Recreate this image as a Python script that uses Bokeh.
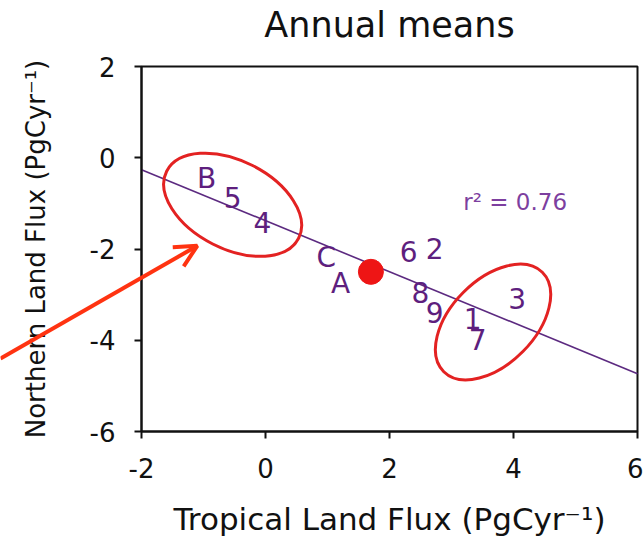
from bokeh.plotting import figure
from bokeh.models import (Arrow, OpenHead, FixedTicker, Label, BoxAnnotation,
                          CustomJSTickFormatter)
from bokeh.core.properties import value
from bokeh.embed import file_html
from bokeh.resources import INLINE

# Model labels and their annual mean fluxes (PgC/yr)
labels = ["B", "5", "4", "C", "A", "6", "2", "8", "9", "1", "7", "3"]
tropical = [-0.95, -0.53, -0.05, 0.98, 1.21, 2.31, 2.73, 2.50, 2.73, 3.34, 3.42, 4.06]
northern = [-0.46, -0.87, -1.42, -2.19, -2.76, -2.06, -1.99, -2.96, -3.39, -3.53, -3.99, -3.09]

# Ensemble mean
mean_tropical = [1.70]
mean_northern = [-2.50]

# Linear fit
fit_slope = -0.559
fit_intercept = -1.38
r_squared = 0.76

# Highlighted groups (centres in data units)
group_x = [-0.53, 3.67]
group_y = [-1.03, -3.60]

x_ticks = [-2, 0, 2, 4, 6]
y_ticks = [-6, -4, -2, 0, 2]

FONT = "DejaVu Sans"
PURPLE = "#5e1f7e"
ARROW_RED = "#ff3311"
INK = "#111111"

# Page geometry: the plotting area is a box inside the canvas; the canvas
# itself is one big frame so that the pointer arrow can reach the margin.
CANVAS_W, CANVAS_H = 643, 537
BOX_LEFT, BOX_RIGHT, BOX_TOP, BOX_BOTTOM = 141, 637, 66, 431
TITLE_MID = 24
x_lo, x_hi = -2, 6
y_lo, y_hi = -6, 2

px_per_x = (BOX_RIGHT - BOX_LEFT) / (x_hi - x_lo)
px_per_y = (BOX_BOTTOM - BOX_TOP) / (y_hi - y_lo)
x_start = x_lo - BOX_LEFT / px_per_x
x_end = x_start + CANVAS_W / px_per_x
y_end = y_hi + BOX_TOP / px_per_y
y_start = y_end - CANVAS_H / px_per_y

p = figure(width=CANVAS_W, height=CANVAS_H,
           x_range=(x_start, x_end), y_range=(y_start, y_end),
           output_backend="svg", toolbar_location=None)
p.min_border = 0
p.min_border_left = p.min_border_right = p.min_border_top = p.min_border_bottom = 0
p.background_fill_color = "white"
p.border_fill_color = "white"
p.outline_line_color = None
p.grid.visible = False

# Axes pinned to the edges of the plotting box
p.xaxis.fixed_location = y_lo
p.xaxis.bounds = (x_lo, x_hi)
p.yaxis.fixed_location = x_lo
p.yaxis.bounds = (y_lo, y_hi)

for ax, ticks in ((p.xaxis, x_ticks), (p.yaxis, y_ticks)):
    ax.ticker = FixedTicker(ticks=ticks)
    ax.formatter = CustomJSTickFormatter(code="return String(tick)")
    ax.minor_tick_line_color = None
    ax.major_tick_in = 0
    ax.major_tick_out = 7
    ax.major_tick_line_width = 2
    ax.major_tick_line_color = INK
    ax.axis_line_width = 2
    ax.axis_line_color = INK
    ax.major_label_text_font = FONT
    ax.major_label_text_font_size = "26px"
    ax.major_label_text_color = INK
    ax.axis_label_text_font = FONT
    ax.axis_label_text_font_style = "normal"
    ax.axis_label_text_color = INK

p.xaxis.axis_label = "Tropical Land Flux (PgCyr\u207b\u00b9)"
p.xaxis.axis_label_text_font_size = "31px"
p.xaxis.major_label_standoff = 19
p.xaxis.axis_label_standoff = 20

p.yaxis.axis_label = "Northern Land Flux (PgCyr\u207b\u00b9)"
p.yaxis.axis_label_text_font_size = "26px"
p.yaxis.major_label_standoff = 19
p.yaxis.axis_label_standoff = 36

# Top and right edges of the plotting box
p.add_layout(BoxAnnotation(left=x_lo, right=x_hi, bottom=y_lo, top=y_hi,
                           fill_alpha=0, line_color=INK, line_alpha=1,
                           line_width=2, level="underlay"))

# Title
p.add_layout(Label(x=(x_lo + x_hi) / 2, y=y_hi + (BOX_TOP - TITLE_MID) / px_per_y,
                   text="Annual means", text_align="center",
                   text_baseline="middle", text_font=FONT,
                   text_font_size="35px", text_color=INK))

# Regression line across the axis range
p.line([x_lo, x_hi], [fit_intercept + fit_slope * x_lo, fit_intercept + fit_slope * x_hi],
       line_color="#5c2a80", line_width=1.6)

# Group outlines
p.ellipse(x=group_x, y=group_y, width=[148, 140], height=[88, 84],
          angle=[-0.47, 0.79], width_units="screen", height_units="screen",
          fill_color=None, line_color="#e32222", line_width=3)

# Model labels
p.text(x=tropical, y=northern, text=labels, text_align="center",
       text_baseline="middle", text_font=value(FONT), text_font_size="28px",
       text_color=PURPLE)

# Ensemble mean marker
p.scatter(x=mean_tropical, y=mean_northern, size=25, marker="circle",
          fill_color="#ee1515", line_color="#ee1515")

p.add_layout(Label(x=3.19, y=-0.98, text=f"r\u00b2 = {r_squared:.2f}",
                   text_align="left", text_baseline="middle",
                   text_font=FONT, text_font_size="23px", text_color="#7d3f9f"))

# Pointer to the northern group, entering from the left margin
p.add_layout(Arrow(end=OpenHead(size=22, line_color=ARROW_RED, line_width=4),
                   x_start=x_start, y_start=-4.40, x_end=-1.10, y_end=-1.93,
                   line_color=ARROW_RED, line_width=4))

open("out.html", "w").write(file_html(p, INLINE))
